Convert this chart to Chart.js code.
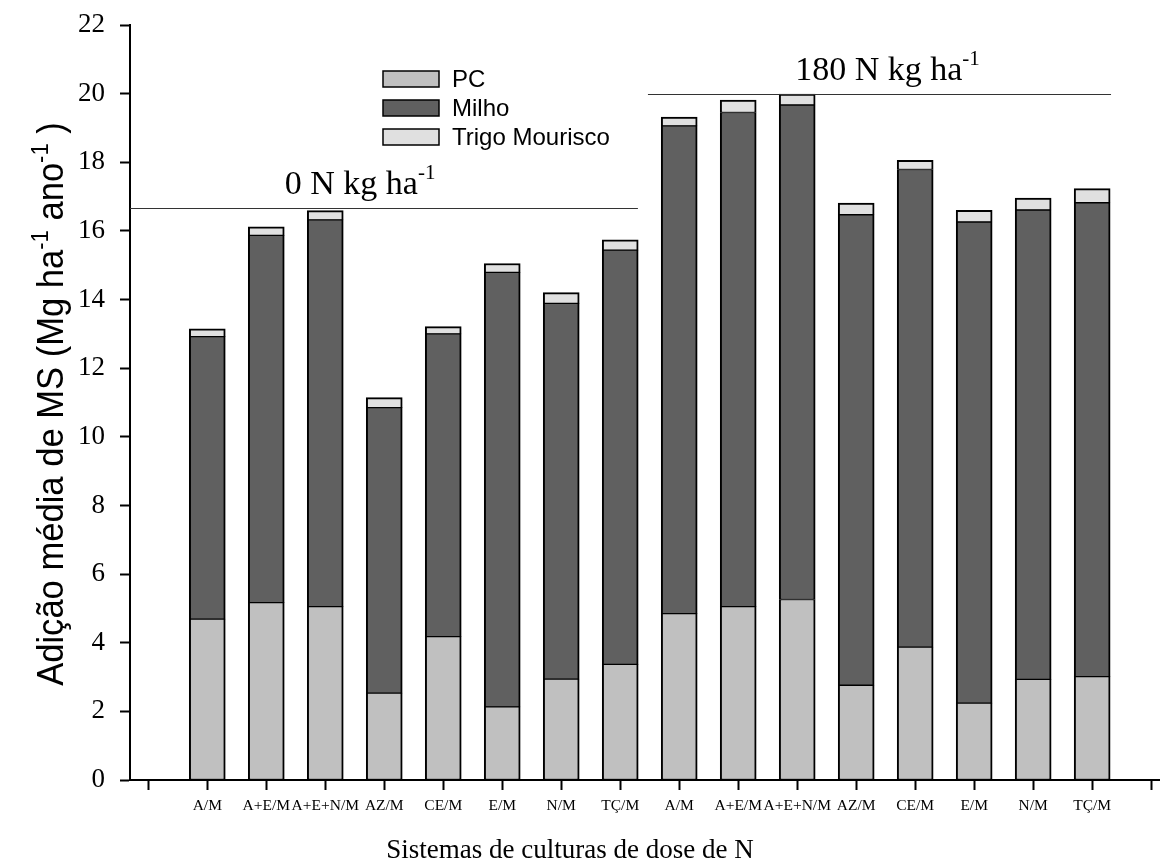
<!DOCTYPE html>
<html>
<head>
<meta charset="utf-8">
<script src="https://cdn.jsdelivr.net/npm/chart.js@4.4.1/dist/chart.umd.min.js"></script>
<style>
  html, body { margin: 0; padding: 0; background: #ffffff; }
  #wrap { width: 1160px; height: 863px; }
</style>
</head>
<body>
<div id="wrap"><canvas id="chart" width="1160" height="863"></canvas></div>
<script>
// Cropping systems, first eight without N, last eight with 180 kg N/ha
const categories = ['A/M', 'A+E/M', 'A+E+N/M', 'AZ/M', 'CE/M', 'E/M', 'N/M', 'TÇ/M',
                    'A/M', 'A+E/M', 'A+E+N/M', 'AZ/M', 'CE/M', 'E/M', 'N/M', 'TÇ/M'];

// Dry-matter addition per component (Mg ha-1 ano-1)
const pcValues    = [4.69, 5.17, 5.05, 2.53, 4.18, 2.13, 2.94, 3.37,
                     4.85, 5.05, 5.26, 2.76, 3.87, 2.24, 2.93, 3.01];
const milhoValues = [8.23, 10.70, 11.27, 8.32, 8.82, 12.66, 10.95, 12.07,
                     14.21, 14.40, 14.41, 13.71, 13.92, 14.02, 13.68, 13.81];
const trigoValues = [0.23, 0.25, 0.27, 0.29, 0.21, 0.26, 0.31, 0.30,
                     0.26, 0.36, 0.32, 0.34, 0.27, 0.34, 0.35, 0.41];

const seriesNames = ['PC', 'Milho', 'Trigo Mourisco'];

// y-axis ticks
const yTickValues = [0, 2, 4, 6, 8, 10, 12, 14, 16, 18, 20, 22];

// N dose group annotations
const doseLabels      = ['0 N kg ha', '180 N kg ha'];
const doseLineLevels  = [16.68, 20.0];
const doseLineStart   = [-0.31, 8.47];
const doseLineEnd     = [8.30, 16.32];
const doseLabelCenter = [3.59, 12.53];

const SERIF = "'Liberation Serif', 'Times New Roman', serif";
const SANS  = "'Liberation Sans', Arial, sans-serif";
const fills = ['#c0c0c0', '#606060', '#e0e0e0'];

const toPoints = arr => arr.map((v, i) => ({ x: i + 1, y: v }));

// Text with superscript pieces: parts = [[text, isSup], ...]
function richWidth(ctx, parts, font, supFont) {
  let w = 0;
  parts.forEach(([t, sup]) => { ctx.font = sup ? supFont : font; w += ctx.measureText(t).width; });
  return w;
}
function drawRich(ctx, x, y, parts, font, supFont, rise) {
  let cx = x;
  parts.forEach(([t, sup]) => {
    ctx.font = sup ? supFont : font;
    ctx.fillText(t, cx, sup ? y - rise : y);
    cx += ctx.measureText(t).width;
  });
}

const decorPlugin = {
  id: 'decor',
  afterDraw(chart) {
    const ctx = chart.ctx;
    const xs = chart.scales.x, ys = chart.scales.y;
    ctx.save();
    ctx.fillStyle = '#000';
    ctx.textBaseline = 'alphabetic';
    ctx.textAlign = 'left';

    // dose group lines and labels
    doseLabels.forEach((lab, i) => {
      const yy = Math.round(ys.getPixelForValue(doseLineLevels[i])) + 0.5;
      ctx.strokeStyle = '#333';
      ctx.lineWidth = 1;
      ctx.beginPath();
      ctx.moveTo(xs.getPixelForValue(doseLineStart[i]), yy);
      ctx.lineTo(xs.getPixelForValue(doseLineEnd[i]), yy);
      ctx.stroke();
      const parts = [[lab, false], ['-1', true]];
      const f = '34px ' + SERIF, sf = '21px ' + SERIF;
      const w = richWidth(ctx, parts, f, sf);
      const cx = xs.getPixelForValue(doseLabelCenter[i]);
      drawRich(ctx, cx - w / 2, yy - 15, parts, f, sf, 15);
    });

    // legend
    const lx = 383, ly = [71, 100, 129];
    seriesNames.forEach((name, i) => {
      ctx.fillStyle = fills[i];
      ctx.fillRect(lx, ly[i], 56, 16);
      ctx.strokeStyle = '#000';
      ctx.lineWidth = 1.5;
      ctx.strokeRect(lx, ly[i], 56, 16);
      ctx.fillStyle = '#000';
      ctx.font = '24px ' + SANS;
      ctx.textBaseline = 'middle';
      ctx.fillText(name, 452, ly[i] + 9);
    });
    ctx.textBaseline = 'alphabetic';

    // x-axis title
    ctx.font = '27px ' + SERIF;
    ctx.textAlign = 'center';
    ctx.fillText('Sistemas de culturas de dose de N', 570, 858);

    // y-axis title
    ctx.textAlign = 'left';
    const yParts = [['Adição média de MS (Mg ha', false], ['-1', true], [' ano', false], ['-1', true], [' )', false]];
    const yf = '36px ' + SANS, ysf = '23px ' + SANS;
    const yw = richWidth(ctx, yParts, yf, ysf);
    ctx.translate(63, 404);
    ctx.rotate(-Math.PI / 2);
    ctx.scale(0.96, 1);
    drawRich(ctx, -yw / 2, 0, yParts, yf, ysf, 15);
    ctx.restore();
  }
};

const barBase = {
  borderColor: '#000000',
  borderSkipped: false,
  barThickness: 36
};

new Chart(document.getElementById('chart'), {
  type: 'bar',
  data: {
    datasets: [
      Object.assign({ label: seriesNames[0], data: toPoints(pcValues), backgroundColor: fills[0],
        borderWidth: { left: 2, right: 2, top: 1, bottom: 1 } }, barBase),
      Object.assign({ label: seriesNames[1], data: toPoints(milhoValues), backgroundColor: fills[1],
        borderWidth: { left: 2, right: 2, top: 1, bottom: 1 } }, barBase),
      Object.assign({ label: seriesNames[2], data: toPoints(trigoValues), backgroundColor: fills[2],
        borderWidth: { left: 2, right: 2, top: 2, bottom: 1 } }, barBase)
    ]
  },
  options: {
    responsive: false,
    animation: false,
    layout: { autoPadding: false, padding: { top: 25, left: 0, right: 0, bottom: 0 } },
    plugins: { legend: { display: false }, tooltip: { enabled: false }, title: { display: false } },
    scales: {
      x: {
        type: 'linear',
        stacked: true,
        offset: false,
        min: -0.31,
        max: 17.15,
        afterBuildTicks: axis => { axis.ticks = Array.from({ length: categories.length + 2 }, (_, i) => ({ value: i })); },
        afterFit: scale => { scale.height = 83; scale.paddingLeft = 0; scale.paddingRight = 0; },
        grid: { offset: false, drawOnChartArea: false, drawTicks: true, tickLength: 10, tickWidth: 2, tickColor: '#000' },
        border: { display: true, color: '#000', width: 2 },
        ticks: {
          autoSkip: false,
          maxRotation: 0,
          padding: 7,
          color: '#000',
          font: { family: SERIF, size: 15.5 },
          callback: v => categories[v - 1] || ''
        }
      },
      y: {
        stacked: true,
        min: 0,
        max: 22,
        afterBuildTicks: axis => { axis.ticks = yTickValues.map(v => ({ value: v })); },
        afterFit: scale => { scale.width = 130; scale.paddingTop = 0; scale.paddingBottom = 0; },
        grid: { drawOnChartArea: false, drawTicks: true, tickLength: 10, tickWidth: 2, tickColor: '#000' },
        border: { display: true, color: '#000', width: 2 },
        ticks: {
          padding: 15,
          color: '#000',
          font: { family: SERIF, size: 27 }
        }
      }
    }
  },
  plugins: [decorPlugin]
});
</script>
</body>
</html>
